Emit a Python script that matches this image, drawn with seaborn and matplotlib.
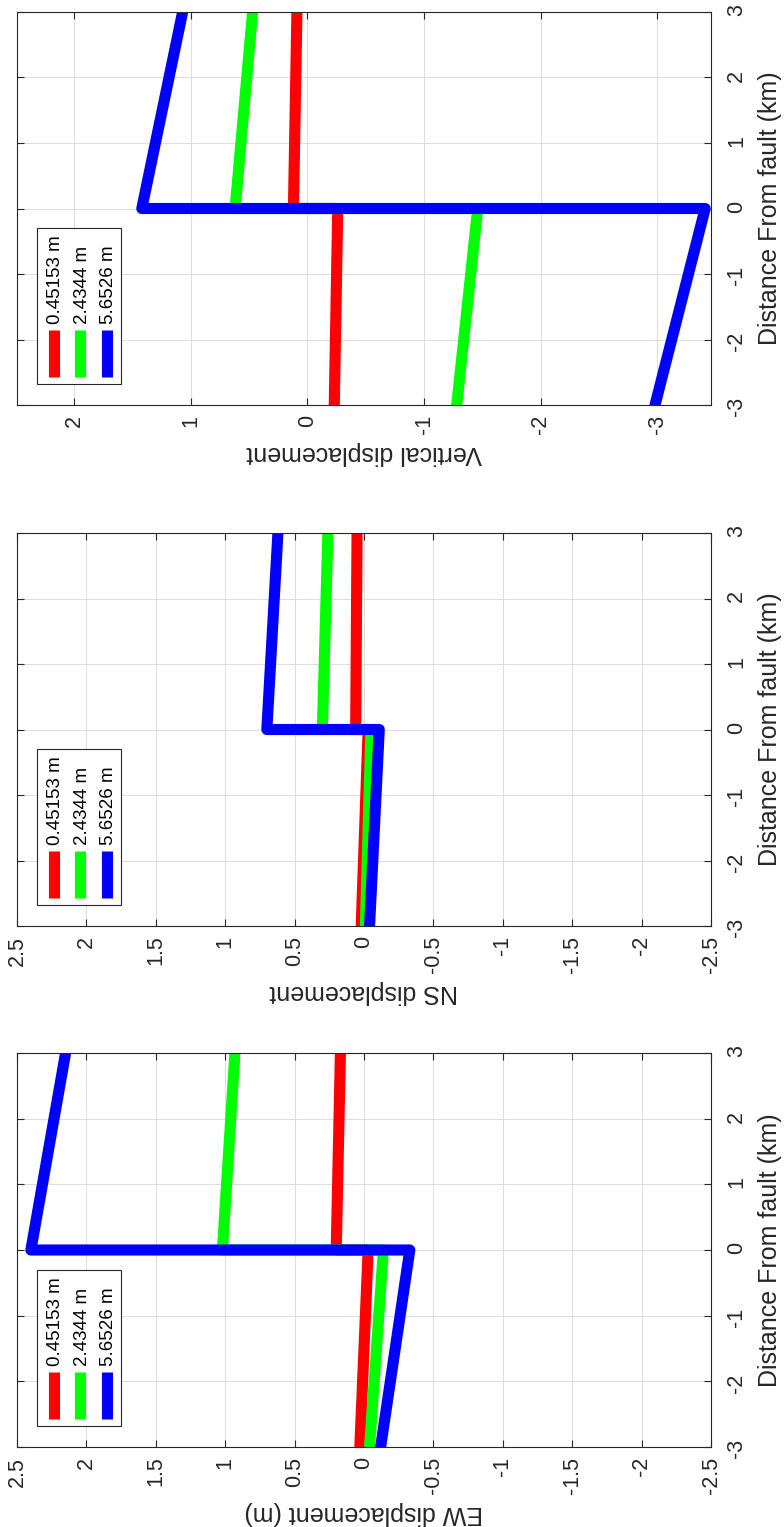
# Perfiles de desplazamiento a través de la falla (figura girada 90°)
import numpy as np
import pandas as pd
import seaborn as sns
import matplotlib.pyplot as plt
from matplotlib.patches import Rectangle

# Datos: distancia (km) y desplazamiento por deslizamiento
distancia = [-3, 0, 0, 3]
etiquetas = ['0.45153 m', '2.4344 m', '5.6526 m']
colores = ['#ff0000', '#00ff00', '#0000ff']

ew_045 = [0.03, -0.03, 0.20, 0.17]
ew_243 = [-0.04, -0.14, 1.02, 0.93]
ew_565 = [-0.12, -0.33, 2.40, 2.15]

ns_045 = [0.02, -0.03, 0.06, 0.05]
ns_243 = [-0.01, -0.05, 0.30, 0.26]
ns_565 = [-0.04, -0.11, 0.70, 0.62]

vert_045 = [-0.23, -0.26, 0.12, 0.09]
vert_243 = [-1.28, -1.46, 0.62, 0.47]
vert_565 = [-2.98, -3.41, 1.42, 1.07]

componentes = [
    ('Vertical displacement', [vert_045, vert_243, vert_565], (2.49, -3.46), [2, 1, 0, -1, -2, -3]),
    ('NS displacement', [ns_045, ns_243, ns_565], (2.5, -2.5), list(np.arange(2.5, -2.51, -0.5))),
    ('EW displacement (m)', [ew_045, ew_243, ew_565], (2.5, -2.5), list(np.arange(2.5, -2.51, -0.5))),
]

# Estilo
sns.set_style('whitegrid', rc={'grid.color': '#dedede', 'axes.edgecolor': '#262626',
                               'grid.linewidth': 0.8, 'axes.linewidth': 0.8})
plt.rcParams['font.family'] = ['Liberation Sans', 'DejaVu Sans']
plt.rcParams['axes.unicode_minus'] = False

fig = plt.figure(figsize=(7.84, 15.27), dpi=100)
W, H = 784, 1527
cajas = [(12, 405), (533, 926), (1053, 1447)]
gris = '#262626'
ancho_linea = 8


def fmt(v):
    return f'{v:g}'


for (titulo, series, lim, ticks), (top, bot) in zip(componentes, cajas):
    ax = fig.add_axes([17 / W, 1 - bot / H, (711 - 17) / W, (bot - top) / H])

    filas = []
    for etq, vals in zip(etiquetas, series):
        for d, v in zip(distancia, vals):
            filas.append({'dist': d, 'desp': v, 'slip': etq})
    df = pd.DataFrame(filas)

    sns.lineplot(data=df, x='desp', y='dist', hue='slip', hue_order=etiquetas,
                 palette=dict(zip(etiquetas, colores)), estimator=None, sort=False,
                 linewidth=ancho_linea, legend=False, ax=ax)

    ax.set_xlim(*lim)
    ax.set_ylim(-3, 3)
    ax.set_xticks(ticks)
    ax.set_xticklabels([fmt(t) for t in ticks])
    ax.set_yticks([-3, -2, -1, 0, 1, 2, 3])
    ax.set_yticklabels([fmt(t) for t in [-3, -2, -1, 0, 1, 2, 3]])

    ax.tick_params(axis='x', direction='in', bottom=True, top=True, length=5,
                   width=0.8, color=gris, labelcolor=gris, labelsize=15.5, rotation=90, pad=7)
    ax.tick_params(axis='y', direction='in', left=True, right=True, labelleft=False,
                   labelright=True, length=5, width=0.8, color=gris, labelcolor=gris,
                   labelsize=15.5, rotation=90, pad=11)

    ax.set_xlabel(titulo, rotation=180, fontsize=18, color=gris, labelpad=5)
    ax.yaxis.set_label_position('right')
    ax.set_ylabel('Distance From fault (km)', fontsize=18, color=gris, labelpad=8)

    # Leyenda girada hecha a mano
    ax.add_patch(Rectangle((0.029, 0.053), 0.121, 0.397, transform=ax.transAxes,
                           facecolor='white', edgecolor=gris, linewidth=0.8, zorder=5))
    for i, (etq, col) in enumerate(zip(etiquetas, colores)):
        xc = 0.053 + i * 0.038
        ax.plot([xc, xc], [0.071, 0.191], transform=ax.transAxes, color=col,
                linewidth=ancho_linea, solid_capstyle='butt', zorder=6)
        ax.text(xc + 0.003, 0.205, etq, rotation=90, ha='center', va='bottom',
                transform=ax.transAxes, fontsize=13.5, color='black', zorder=6)

plt.savefig('out.png', dpi=100)
plt.close()
